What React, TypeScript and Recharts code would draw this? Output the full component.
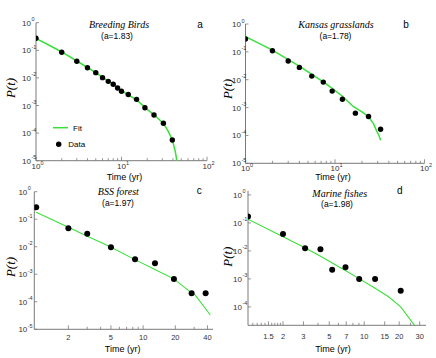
import React from 'react';
import { ScatterChart, Scatter, XAxis, YAxis } from 'recharts';

// ---------- data ----------
const birdsT = [1, 2, 3, 4, 5, 6, 7, 8, 9, 10, 12, 15, 18.8, 24, 30.9, 39.3];
const birdsP = [0.272, 0.085, 0.04, 0.0234, 0.0155, 0.0102, 0.0075, 0.0059, 0.0043, 0.0033, 0.0025, 0.00167, 0.00083, 0.00045, 0.000227, 0.0000562];
const birdsFitT = [1, 1.5, 2, 3, 4, 5, 6, 7, 8, 9, 10, 12, 15, 19, 24, 31, 35, 39.3, 42.2, 43.5, 44.2];
const birdsFitP = [0.27, 0.14, 0.087, 0.041, 0.0238, 0.0156, 0.0104, 0.0076, 0.0058, 0.0045, 0.0035, 0.0024, 0.00162, 0.00082, 0.00046, 0.000222, 0.00012, 0.000057, 0.000024, 0.000015, 0.00001];

const kansasT = [1, 2, 3, 4, 5.5, 7.4, 9.3, 12.1, 16.9, 23.7, 32.3];
const kansasP = [0.29, 0.11, 0.047, 0.0277, 0.0135, 0.0082, 0.0039, 0.002, 0.00063, 0.00048, 0.000167];
const kansasFitT = [1, 2, 3, 4, 5.5, 7.4, 9.3, 12, 16, 20, 23.7, 27, 29.5, 31, 32.3];
const kansasFitP = [0.35, 0.115, 0.053, 0.031, 0.0155, 0.0083, 0.0049, 0.0026, 0.0011, 0.0007, 0.00047, 0.00026, 0.000135, 0.0001, 0.000067];

const bssT = [1, 2, 3, 5, 8.4, 12.9, 19.4, 28.4, 38.4];
const bssP = [0.27, 0.047, 0.0297, 0.0095, 0.0035, 0.0025, 0.00067, 0.000203, 0.000203];
const bssFitT = [1, 2, 3, 4, 5, 8.4, 12.9, 19.3, 27.6, 30.7, 42.5];
const bssFitP = [0.178, 0.051, 0.024, 0.0145, 0.0095, 0.0034, 0.0015, 0.00068, 0.00023, 0.000175, 0.000033];

const fishT = [1, 2, 3.1, 4.2, 5.3, 6.9, 9.05, 12.4, 20.6];
const fishP = [0.168, 0.04, 0.0125, 0.0115, 0.0021, 0.0026, 0.001, 0.001, 0.00038];
const fishFitT = [1, 2, 3, 4.17, 5, 7, 9.1, 12.4, 16.1, 20.6, 27.3];
const fishFitP = [0.135, 0.032, 0.0138, 0.0066, 0.0043, 0.0019, 0.001, 0.00046, 0.000234, 0.0001, 0.000021];

// tick values
const decadeMajor = [1, 10, 100];
const decadeTicks = [1, 2, 3, 4, 5, 6, 7, 8, 9, 10, 20, 30, 40, 50, 60, 70, 80, 90, 100];
const bssMajor = [2, 5, 10, 20, 40];
const bssTicks = [2, 3, 4, 5, 6, 7, 8, 9, 10, 20, 30, 40];
const fishMajor = [1.5, 2, 3, 5, 7, 10, 15, 20, 30];
const fishTicks = [1.1, 1.2, 1.3, 1.4, 1.5, 1.6, 1.7, 1.8, 1.9, 2, 3, 4, 5, 6, 7, 8, 9, 10, 15, 20, 25, 30];
const yTicks5 = [1, 0.1, 0.01, 0.001, 0.0001, 0.00001];
const yTicks4 = [1, 0.1, 0.01, 0.001, 0.0001];

// ---------- styles ----------
const GREEN = '#3ae03a';
const AXIS = '#7a7a7a';
const LABEL = '#333';
const SANS = '"Liberation Sans", Arial, sans-serif';
const SERIF = '"Liberation Serif", "Times New Roman", serif';

type Pt = { t: number; p: number };
const zip = (t: number[], p: number[]): Pt[] => t.map((v, i) => ({ t: v, p: p[i] }));

const makeXTick = (labeled: number[], style: 'pow' | 'plain', dy: number) => (props: any) => {
  const { x, y, payload } = props;
  const v = payload.value;
  const isLab = labeled.some((l) => Math.abs(l - v) < 1e-9);
  return (
    <g>
      <line x1={x} x2={x} y1={y} y2={y - (isLab ? 4 : 2.5)} stroke={AXIS} strokeWidth={0.8} />
      {isLab && style === 'pow' && (
        <g>
          <text x={x} y={y + dy} textAnchor="middle" fontSize={8} fill={LABEL} fontFamily={SANS}>10</text>
          <text x={x + 4.6} y={y + dy - 3.8} fontSize={5.5} fill={LABEL} fontFamily={SANS}>{Math.round(Math.log10(v))}</text>
        </g>
      )}
      {isLab && style === 'plain' && (
        <text x={x} y={y + dy} textAnchor="middle" fontSize={7.5} fill={LABEL} fontFamily={SANS}>{v}</text>
      )}
    </g>
  );
};

const makeYTick = (off: number) => (props: any) => {
  const { x, y, payload } = props;
  const e = Math.round(Math.log10(payload.value));
  return (
    <g>
      <line x1={x} x2={x + 3} y1={y} y2={y} stroke={AXIS} strokeWidth={0.8} />
      <text x={x - off} y={y + 3} textAnchor="end" fontSize={8} fill={LABEL} fontFamily={SANS}>10</text>
      <text x={x - off + 0.4} y={y - 1.5} fontSize={5.5} fill={LABEL} fontFamily={SANS}>{e}</text>
    </g>
  );
};

type PanelProps = {
  left: number; top: number; width: number; height: number;
  margin: { top: number; right: number; bottom: number; left: number };
  xDomain: [number, number]; yDomain: [number, number];
  xTicks: number[]; xLabeled: number[]; xStyle: 'pow' | 'plain'; xDy: number;
  yTicks: number[]; yOff: number;
  data: Pt[]; fit: Pt[]; r: number; lw: number;
};

function Panel(p: PanelProps) {
  const m = { top: p.margin.top, right: p.margin.right, bottom: p.margin.bottom - 18, left: p.margin.left - 24 };
  return (
    <div style={{ position: 'absolute', left: p.left, top: p.top }}>
      <ScatterChart width={p.width} height={p.height} margin={m}>
        <XAxis
          type="number" dataKey="t" scale="log" domain={p.xDomain} allowDataOverflow
          ticks={p.xTicks} interval={0} height={18} tickSize={0} tickMargin={0} tickLine={false}
          axisLine={{ stroke: AXIS }} tick={makeXTick(p.xLabeled, p.xStyle, p.xDy)}
        />
        <YAxis
          type="number" dataKey="p" scale="log" domain={p.yDomain} allowDataOverflow
          ticks={p.yTicks} interval={0} width={24} tickSize={0} tickMargin={0} tickLine={false}
          axisLine={{ stroke: AXIS }} tick={makeYTick(p.yOff)}
        />
        <Scatter data={p.fit} line={{ stroke: GREEN, strokeWidth: p.lw }} shape={() => <g />} isAnimationActive={false} />
        <Scatter data={p.data} fill="#000" shape={(s: any) => <circle cx={s.cx} cy={s.cy} r={p.r} fill="#000" />} isAnimationActive={false} />
      </ScatterChart>
    </div>
  );
}

const T = (props: any) => <text {...props} />;

export default function App() {
  return (
    <div style={{ position: 'absolute', left: 0, top: 0, width: 436, height: 358, background: '#fff' }}>
      <Panel left={0} top={0} width={218} height={185}
        margin={{ top: 22.7, right: 11, bottom: 24.3, left: 36 }}
        xDomain={[1, 100]} yDomain={[0.00001, 1]}
        xTicks={decadeTicks} xLabeled={decadeMajor} xStyle="pow" xDy={8}
        yTicks={yTicks5} yOff={5}
        data={zip(birdsT, birdsP)} fit={zip(birdsFitT, birdsFitP)} r={2.7} lw={1.5} />
      <Panel left={218} top={0} width={218} height={185}
        margin={{ top: 24, right: 11.5, bottom: 21.7, left: 27.5 }}
        xDomain={[1, 100]} yDomain={[0.00001, 1]}
        xTicks={decadeTicks} xLabeled={decadeMajor} xStyle="pow" xDy={7.5}
        yTicks={yTicks5} yOff={4.5}
        data={zip(kansasT, kansasP)} fit={zip(kansasFitT, kansasFitP)} r={2.7} lw={1.5} />
      <Panel left={0} top={180} width={218} height={178}
        margin={{ top: 11.7, right: 5, bottom: 28.7, left: 34.3 }}
        xDomain={[0.96, 45]} yDomain={[0.00001, 1]}
        xTicks={bssTicks} xLabeled={bssMajor} xStyle="plain" xDy={11}
        yTicks={yTicks5} yOff={7}
        data={zip(bssT, bssP)} fit={zip(bssFitT, bssFitP)} r={3} lw={1.1} />
      <Panel left={218} top={180} width={218} height={178}
        margin={{ top: 10.8, right: 10, bottom: 32.7, left: 30 }}
        xDomain={[1, 34]} yDomain={[0.000022, 1.4]}
        xTicks={fishTicks} xLabeled={fishMajor} xStyle="plain" xDy={14}
        yTicks={yTicks4} yOff={6}
        data={zip(fishT, fishP)} fit={zip(fishFitT, fishFitP)} r={3} lw={1.1} />

      <svg width={436} height={358} style={{ position: 'absolute', left: 0, top: 0, pointerEvents: 'none' }}>
        {/* panel a */}
        <T x={119} y={28} textAnchor="middle" fontFamily={SERIF} fontStyle="italic" fontSize={10}>Breeding Birds</T>
        <T x={117} y={38.5} textAnchor="middle" fontFamily={SANS} fontSize={8.5}>(a=1.83)</T>
        <T x={200} y={27.5} textAnchor="middle" fontFamily={SANS} fontSize={10}>a</T>
        <T transform="translate(15,88) rotate(-90)" textAnchor="middle" fontFamily={SERIF} fontStyle="italic" fontSize={13}>P(t)</T>
        <T x={124.5} y={179.5} textAnchor="middle" fontFamily={SANS} fontSize={9}>Time (yr)</T>
        <line x1={53} x2={68} y1={127.7} y2={127.7} stroke={GREEN} strokeWidth={1.5} />
        <T x={73} y={130.5} fontFamily={SANS} fontSize={8}>Fit</T>
        <circle cx={58.7} cy={144.3} r={2.7} fill="#000" />
        <T x={68.3} y={147} fontFamily={SANS} fontSize={8}>Data</T>

        {/* panel b */}
        <T x={336} y={28} textAnchor="middle" fontFamily={SERIF} fontStyle="italic" fontSize={10}>Kansas grasslands</T>
        <T x={335.5} y={39} textAnchor="middle" fontFamily={SANS} fontSize={8.5}>(a=1.78)</T>
        <T x={406} y={28} textAnchor="middle" fontFamily={SANS} fontSize={10}>b</T>
        <T transform="translate(232,89) rotate(-90)" textAnchor="middle" fontFamily={SERIF} fontStyle="italic" fontSize={13}>P(t)</T>
        <T x={333} y={179.5} textAnchor="middle" fontFamily={SANS} fontSize={9}>Time (yr)</T>

        {/* panel c */}
        <T x={118.3} y={194.5} textAnchor="middle" fontFamily={SERIF} fontStyle="italic" fontSize={10}>BSS forest</T>
        <T x={118} y={206} textAnchor="middle" fontFamily={SANS} fontSize={8.5}>(a=1.97)</T>
        <T x={199.3} y={194} textAnchor="middle" fontFamily={SANS} fontSize={10}>c</T>
        <T transform="translate(15,267) rotate(-90)" textAnchor="middle" fontFamily={SERIF} fontStyle="italic" fontSize={13}>P(t)</T>
        <T x={122.7} y={351.5} textAnchor="middle" fontFamily={SANS} fontSize={9}>Time (yr)</T>

        {/* panel d */}
        <T x={339.7} y={197} textAnchor="middle" fontFamily={SERIF} fontStyle="italic" fontSize={10}>Marine fishes</T>
        <T x={337} y={206.5} textAnchor="middle" fontFamily={SANS} fontSize={8.5}>(a=1.98)</T>
        <T x={399.7} y={194} textAnchor="middle" fontFamily={SANS} fontSize={10}>d</T>
        <T transform="translate(232,256.7) rotate(-90)" textAnchor="middle" fontFamily={SERIF} fontStyle="italic" fontSize={13}>P(t)</T>
        <T x={333} y={351.5} textAnchor="middle" fontFamily={SANS} fontSize={9}>Time (yr)</T>
      </svg>
    </div>
  );
}
